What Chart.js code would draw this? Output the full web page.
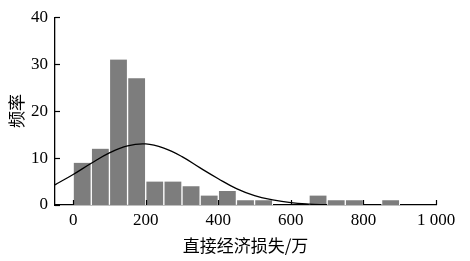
<!DOCTYPE html>
<html>
<head>
<meta charset="utf-8">
<script src="https://cdn.jsdelivr.net/npm/chart.js@4/dist/chart.umd.min.js"></script>
<style>
  html, body { margin: 0; padding: 0; background: #fff; }
  #wrap { width: 470px; height: 261px; }
</style>
</head>
<body>
<div id="wrap"><canvas id="histChart"></canvas></div>
<script>
    // histogram bins (centre of each 50-wide bin) and counts
    const binCenters = [25, 75, 125, 175, 225, 275, 325, 375, 425, 475, 525, 575, 625, 675, 725, 775, 825, 875, 925];
    const binCounts  = [9, 12, 31, 27, 5, 5, 4, 2, 3, 1, 1, 0, 0, 2, 1, 1, 0, 1, 0];

    // fitted curve
    const curveX = [-50, 0, 50, 100, 150, 200, 250, 300, 350, 400, 450, 500, 550, 600, 650, 700];
    const curveY = [4.3, 6.5, 8.9, 11.1, 12.6, 13.0, 12.1, 10.3, 7.9, 5.6, 3.5, 2.0, 1.1, 0.5, 0.2, 0.05];

    const xTicks = [0, 200, 400, 600, 800, 1000];
    const yTicks = [0, 10, 20, 30, 40];

    const serif = "'Liberation Serif', 'Times New Roman', serif";
    const cjk = "'Noto Sans CJK SC', sans-serif";

    const fmtNum = v => v >= 1000 ? String(v).replace(/\B(?=(\d{3})+(?!\d))/g, ' ') : String(v);

    // small tick marks pointing into the plot
    const innerTicks = {
        id: 'innerTicks',
        afterDraw(chart) {
            const { ctx, scales: { x, y }, chartArea } = chart;
            ctx.save();
            ctx.strokeStyle = '#000';
            ctx.lineWidth = 1.2;
            xTicks.forEach(v => {
                const px = Math.round(x.getPixelForValue(v)) + 0.5;
                ctx.beginPath();
                ctx.moveTo(px, chartArea.bottom);
                ctx.lineTo(px, chartArea.bottom - 5);
                ctx.stroke();
            });
            yTicks.forEach(v => {
                const py = Math.round(y.getPixelForValue(v)) + 0.5;
                ctx.beginPath();
                ctx.moveTo(chartArea.left, py);
                ctx.lineTo(chartArea.left + 5, py);
                ctx.stroke();
            });
            ctx.restore();
        }
    };

    const ctx = document.getElementById('histChart').getContext('2d');
    new Chart(ctx, {
        type: 'bar',
        data: {
            datasets: [
                {
                    type: 'line',
                    data: curveX.map((v, i) => ({ x: v, y: curveY[i] })),
                    borderColor: '#000',
                    borderWidth: 1.3,
                    pointRadius: 0,
                    tension: 0.4,
                    fill: false,
                    order: 0
                },
                {
                    type: 'bar',
                    data: binCenters.map((v, i) => ({ x: v, y: binCounts[i] })),
                    backgroundColor: '#7d7d7d',
                    borderColor: '#fff',
                    borderWidth: { left: 1, right: 1, top: 0, bottom: 0 },
                    barPercentage: 1,
                    categoryPercentage: 1,
                    order: 1
                }
            ]
        },
        options: {
            responsive: true,
            maintainAspectRatio: false,
            animation: false,
            layout: { padding: { top: 15, right: 34, left: 0, bottom: 0 } },
            plugins: {
                legend: { display: false },
                tooltip: { enabled: false }
            },
            scales: {
                x: {
                    type: 'linear',
                    min: -50,
                    max: 1000,
                    offset: false,
                    afterBuildTicks: s => { s.ticks = xTicks.map(v => ({ value: v })); },
                    afterFit: s => { s.height = 56; },
                    grid: { display: false, drawTicks: false },
                    border: { display: true, color: '#000', width: 1.3 },
                    ticks: {
                        padding: 5,
                        maxRotation: 0,
                        color: '#000',
                        font: { family: serif, size: 17 },
                        callback: v => fmtNum(v)
                    },
                    title: {
                        display: true,
                        text: '直接经济损失/万',
                        color: '#000',
                        font: { family: cjk, size: 17 },
                        padding: { top: 0, bottom: 5 }
                    }
                },
                y: {
                    min: 0,
                    max: 40,
                    afterBuildTicks: s => { s.ticks = yTicks.map(v => ({ value: v })); },
                    afterFit: s => { s.width = 55; },
                    grid: { display: false, drawTicks: false },
                    border: { display: true, color: '#000', width: 1.3 },
                    ticks: {
                        padding: 7,
                        color: '#000',
                        font: { family: serif, size: 17 }
                    },
                    title: {
                        display: true,
                        text: '频率',
                        color: '#000',
                        font: { family: cjk, size: 17 },
                        padding: { top: 6, bottom: 0 }
                    }
                }
            }
        },
        plugins: [innerTicks]
    });
</script>
</body>
</html>
